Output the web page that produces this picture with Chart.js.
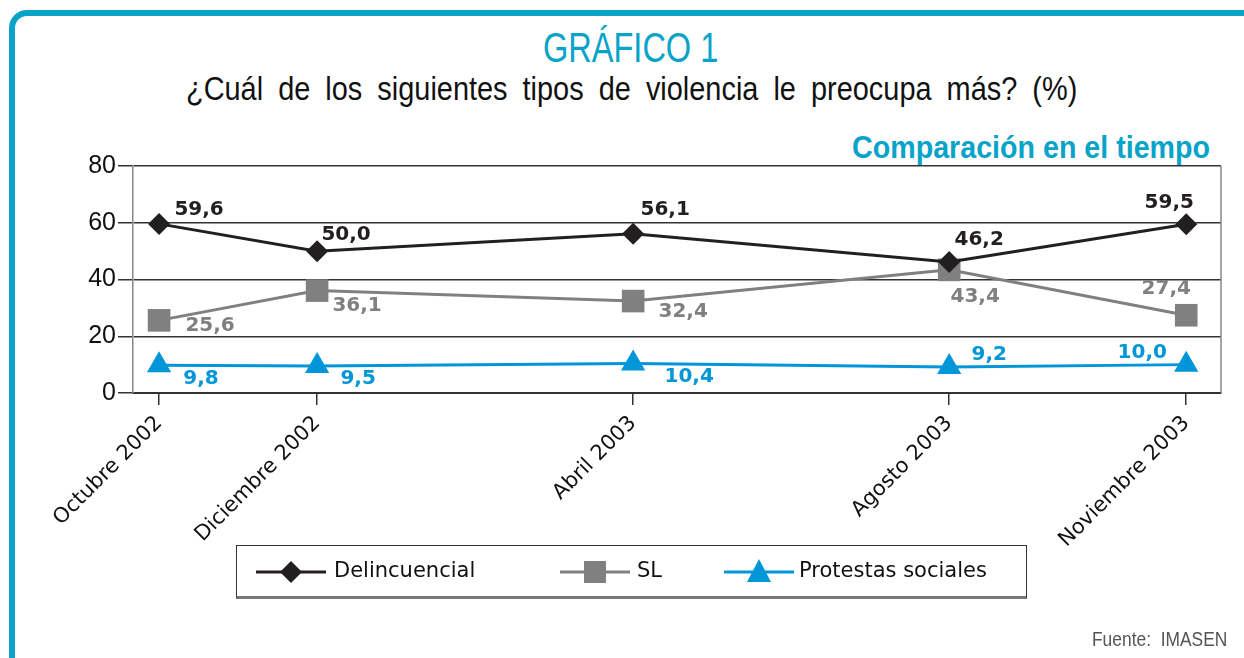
<!DOCTYPE html>
<html>
<head>
    <title>Gráfico 1</title>
    <script src="https://cdn.jsdelivr.net/npm/chart.js"></script>
    <style>
        body { margin: 0; width: 1244px; height: 658px; overflow: hidden; background: #fff; position: relative; }
        .frame { position: absolute; left: 9px; top: 10px; width: 1300px; height: 720px; border: 6px solid #0aa2c9; border-radius: 18px; }
        .txt { position: absolute; white-space: nowrap; font-family: 'Liberation Sans', Arial, sans-serif; line-height: 1; }
        .title { top: 27px; font-size: 42px; color: #08a3c9; }
        .subtitle { top: 72px; font-size: 33px; word-spacing: 8px; color: #111; }
        .compare { top: 131px; font-size: 32px; font-weight: bold; color: #08a3c9; }
        .source { top: 628px; font-size: 21px; color: #555; }
        #wrap { position: absolute; left: 0; top: 0; width: 1244px; height: 658px; }
        .legend { position: absolute; left: 236px; top: 545px; width: 789px; height: 50px; border: 1.5px solid #333; border-bottom: 3px solid #777; font: 21px 'DejaVu Sans', sans-serif; color: #111; }
        .legend svg, .legend span { position: absolute; }
        .legend span { top: 12px; }
    </style>
</head>
<body>
<div class="frame"></div>
<div class="txt title" id="title">GRÁFICO 1</div>
<div class="txt subtitle" id="subtitle">¿Cuál de los siguientes tipos de violencia le preocupa más? (%)</div>
<div class="txt compare" id="compare">Comparación en el tiempo</div>
<div id="wrap"><canvas id="chart" width="1244" height="658"></canvas></div>
<div class="legend">
    <svg style="left:19px;top:13px" width="70" height="26"><line x1="0" y1="13" x2="70" y2="13" stroke="#231f20" stroke-width="3"/><polygon points="35,2 46,13 35,24 24,13" fill="#231f20"/></svg>
    <span style="left:97px">Delincuencial</span>
    <svg style="left:323px;top:13px" width="70" height="26"><line x1="0" y1="13" x2="70" y2="13" stroke="#808080" stroke-width="3"/><rect x="24" y="2" width="22" height="22" fill="#808080"/></svg>
    <span style="left:400px">SL</span>
    <svg style="left:487px;top:12px" width="70" height="26"><line x1="0" y1="14" x2="70" y2="14" stroke="#0096d8" stroke-width="3"/><polygon points="35,1 47,24 23,24" fill="#0096d8"/></svg>
    <span style="left:562px">Protestas sociales</span>
</div>
<div class="txt source" id="source">Fuente:&nbsp; IMASEN</div>

<script>
    // months counted from Octubre 2002
    const months = [0, 2, 6, 10, 13];
    const categories = ['Octubre 2002', 'Diciembre 2002', 'Abril 2003', 'Agosto 2003', 'Noviembre 2003'];
    const delincuencial = [59.6, 50.0, 56.1, 46.2, 59.5];
    const sl = [25.6, 36.1, 32.4, 43.4, 27.4];
    const protestas = [9.8, 9.5, 10.4, 9.2, 10.0];
    const yTicks = [0, 20, 40, 60, 80];

    const colors = ['#231f20', '#808080', '#0096d8'];

    // value label placement around each point: [dx, dy]
    const labelOffsets = [
        [[40, -14], [29, -16], [32, -24], [30, -22], [-17, -21]],
        [[51, 5], [40, 15], [50, 11], [26, 27], [-20, -26]],
        [[42, 14], [41, 13], [56, 13], [40, -12], [-44, -12]]
    ];

    // squeeze headings into the condensed widths of the original
    function fit(id, left, right) {
        const el = document.getElementById(id);
        const w = el.offsetWidth;
        el.style.left = left + 'px';
        el.style.transformOrigin = '0 0';
        el.style.transform = 'scaleX(' + ((right - left) / w) + ')';
    }
    fit('title', 543, 718);
    fit('subtitle', 186, 1077);
    fit('compare', 852, 1210);
    fit('source', 1092, 1227);

    function points(values) {
        return months.map((m, i) => ({ x: m, y: values[i] }));
    }

    const valueLabels = {
        id: 'valueLabels',
        afterDatasetsDraw(chart) {
            const ctx = chart.ctx;
            ctx.save();
            ctx.font = 'bold 20px "DejaVu Sans", sans-serif';
            ctx.textAlign = 'center';
            ctx.textBaseline = 'middle';
            chart.data.datasets.forEach((ds, di) => {
                const meta = chart.getDatasetMeta(di);
                ctx.fillStyle = colors[di];
                meta.data.forEach((pt, i) => {
                    const off = labelOffsets[di][i];
                    const txt = ds.data[i].y.toFixed(1).replace('.', ',');
                    ctx.fillText(txt, pt.x + off[0], pt.y + off[1]);
                });
            });
            ctx.restore();
        }
    };

    const rightBorder = {
        id: 'rightBorder',
        beforeDatasetsDraw(chart) {
            const a = chart.chartArea;
            const ctx = chart.ctx;
            ctx.save();
            ctx.strokeStyle = '#888';
            ctx.lineWidth = 1.5;
            ctx.beginPath();
            ctx.moveTo(a.right, a.top);
            ctx.lineTo(a.right, a.bottom);
            ctx.stroke();
            ctx.restore();
        }
    };

    Chart.defaults.font.family = '"DejaVu Sans", sans-serif';

    new Chart(document.getElementById('chart').getContext('2d'), {
        type: 'line',
        data: {
            datasets: [
                {
                    label: 'Delincuencial',
                    data: points(delincuencial),
                    borderColor: colors[0],
                    backgroundColor: colors[0],
                    borderWidth: 3,
                    pointStyle: 'rectRot',
                    pointRadius: 11,
                    pointBorderWidth: 0
                },
                {
                    label: 'SL',
                    data: points(sl),
                    borderColor: colors[1],
                    backgroundColor: colors[1],
                    borderWidth: 3,
                    pointStyle: 'rect',
                    pointRadius: 16,
                    pointBorderWidth: 0
                },
                {
                    label: 'Protestas sociales',
                    data: points(protestas),
                    borderColor: colors[2],
                    backgroundColor: colors[2],
                    borderWidth: 3,
                    pointStyle: 'triangle',
                    pointRadius: 14,
                    pointBorderWidth: 0
                }
            ]
        },
        options: {
            responsive: false,
            animation: false,
            layout: { padding: { top: 166, right: 23, left: 0, bottom: 0 } },
            plugins: {
                legend: { display: false },
                tooltip: { enabled: false }
            },
            scales: {
                x: {
                    type: 'linear',
                    min: -0.33,
                    max: 13.44,
                    afterBuildTicks: scale => { scale.ticks = months.map(v => ({ value: v })); },
                    afterFit: scale => { scale.height = 265; },
                    ticks: {
                        autoSkip: false,
                        minRotation: 45,
                        maxRotation: 45,
                        color: '#111',
                        padding: 6,
                        font: { size: 21 },
                        callback: (v, i) => categories[i]
                    },
                    grid: { drawOnChartArea: false, tickLength: 12, color: '#333', lineWidth: 1.5 },
                    border: { display: true, color: '#333', width: 2 }
                },
                y: {
                    min: 0,
                    max: 80,
                    afterBuildTicks: scale => { scale.ticks = yTicks.map(v => ({ value: v })); },
                    afterFit: scale => { scale.width = 133; },
                    ticks: {
                        color: '#111',
                        padding: 2,
                        font: { family: '"Liberation Sans", Arial, sans-serif', size: 25 }
                    },
                    grid: { color: '#333', lineWidth: 1.5, tickLength: 15 },
                    border: { display: true, color: '#888', width: 1.5 }
                }
            }
        },
        plugins: [valueLabels, rightBorder]
    });
</script>
</body>
</html>
